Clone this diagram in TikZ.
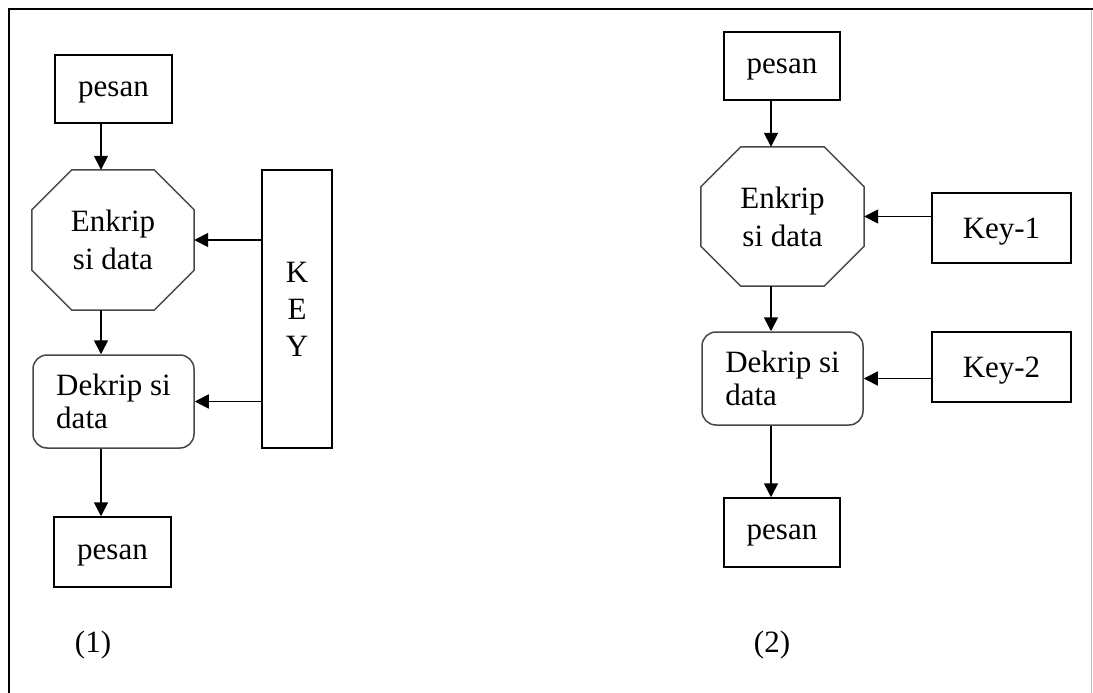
\documentclass[tikz,border=0pt]{standalone}
\usepackage{fontspec}
\setmainfont{Liberation Serif}
\usetikzlibrary{arrows.meta}

\tikzset{
  txt/.style={font=\fontsize{31}{38}\selectfont, text depth=0pt},
  box/.style={draw=black, line width=1.5pt, rectangle, txt, inner sep=0pt},
  octo/.style={rectangle, txt, align=center, inner sep=0pt},
  octline/.style={draw=black!72, line width=1.5pt, line join=miter},
  rbox/.style={draw=black!72, line width=1.5pt, rectangle, rounded corners=14pt,
    align=left, inner sep=0pt, font=\fontsize{31}{33}\selectfont, text depth=0pt},
  flow/.style={line width=1.6pt, -{Triangle[length=14pt,width=14pt]}},
  frame/.style={line width=2pt, black},
}

% octagon outline around a rectangular node, cut by #2 at each corner
\newcommand\drawoct[2]{%
  \draw[octline] ([xshift=#2]#1.north west) -- ([xshift=-#2]#1.north east)
    -- ([yshift=-#2]#1.north east) -- ([yshift=#2]#1.south east)
    -- ([xshift=-#2]#1.south east) -- ([xshift=#2]#1.south west)
    -- ([yshift=#2]#1.south west) -- ([yshift=-#2]#1.north west) -- cycle;}

\begin{document}
\begin{tikzpicture}[x=1pt,y=-1pt]
  \useasboundingbox (0,0) rectangle (1093,693);
  \fill[white] (0,0) rectangle (1093,693);

  % outer frame
  \draw[frame] (9,693) -- (9,9) -- (1093,9);
  \draw[black!25, line width=1.5pt] (1091.5,10) -- (1091.5,693);

  % scheme (1): one shared key
  \coordinate (col1) at (101,0);
  \node[box, minimum width=117pt, minimum height=68pt] (p1in) at (113.5,89) {pesan};
  \node[octo, minimum width=162pt, minimum height=140pt] (enc1) at (113,240) {Enkrip\\si data};
  \drawoct{enc1}{40pt}
  \node[rbox, minimum width=161pt, minimum height=93pt] (dec1) at (113.5,401.5) {Dekrip si\\data};
  \node[box, minimum width=70pt, minimum height=278pt, align=center,
        font=\fontsize{31}{37}\selectfont] (key) at (297,309) {K\\E\\Y};
  \node[box, minimum width=117pt, minimum height=70pt] (p1out) at (112.5,552) {pesan};
  \node[txt] (lab1) at (93,642) {(1)};

  \draw[flow] (col1 |- p1in.south) -- (col1 |- enc1.north);
  \draw[flow] (col1 |- enc1.south) -- (col1 |- dec1.north);
  \draw[flow] (col1 |- dec1.south) -- (col1 |- p1out.north);
  \draw[flow] (key.west |- enc1.east) -- (enc1.east);
  \draw[flow] (key.west |- dec1.east) -- (dec1.east);

  % scheme (2): separate keys
  \coordinate (col2) at (771,0);
  \node[box, minimum width=116pt, minimum height=68pt] (p2in) at (782,66) {pesan};
  \node[octo, minimum width=163pt, minimum height=139pt] (enc2) at (782.5,216.5) {Enkrip\\si data};
  \drawoct{enc2}{40pt}
  \node[rbox, minimum width=161pt, minimum height=93pt] (dec2) at (782.5,378.5) {Dekrip si\\data};
  \node[box, minimum width=139pt, minimum height=70pt] (key1) at (1001.5,228) {Key-1};
  \node[box, minimum width=139pt, minimum height=70pt] (key2) at (1001.5,367) {Key-2};
  \node[box, minimum width=116pt, minimum height=69pt] (p2out) at (782,532.5) {pesan};
  \node[txt] (lab2) at (772,642) {(2)};

  \draw[flow] (col2 |- p2in.south) -- (col2 |- enc2.north);
  \draw[flow] (col2 |- enc2.south) -- (col2 |- dec2.north);
  \draw[flow] (col2 |- dec2.south) -- (col2 |- p2out.north);
  \draw[flow] (key1.west |- enc2.east) -- (enc2.east);
  \draw[flow] (key2.west |- dec2.east) -- (dec2.east);
\end{tikzpicture}
\end{document}
